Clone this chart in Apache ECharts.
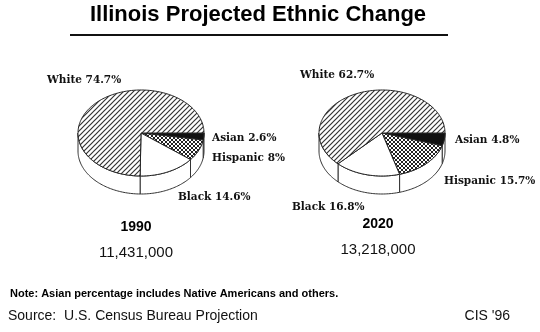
<!DOCTYPE html>
<html>
<head>
<meta charset="utf-8">
<script src="https://cdn.jsdelivr.net/npm/echarts@6/dist/echarts.min.js"></script>
<style>html,body{margin:0;padding:0;background:#fff}#c{width:540px;height:332px}</style>
</head>
<body>
<div id="c"></div>
<script>
// ---- data ----
const chartTitle = 'Illinois Projected Ethnic Change';
const categories = ['Asian', 'Hispanic', 'Black', 'White'];
const years = ['1990', '2020'];
const totals = ['11,431,000', '13,218,000'];
const share1990 = [2.6, 8, 14.6, 74.7];
const share2020 = [4.8, 15.7, 16.8, 62.7];
const noteText = 'Note: Asian percentage includes Native Americans and others.';
const sourceText = 'Source:  U.S. Census Bureau Projection';
const creditText = "CIS '96";

// ---- layout (not data) ----
const shares = [share1990, share2020];
const pieCenters = [[141, 133], [382, 133]];
const RX = 63, RY = 43, DEPTH = 18;
const labelPos = [
  [[212, 138], [212, 158], [178, 197], [47, 80]],
  [[455, 140], [444, 181], [292, 207], [300, 75]]
];
const yearPos = [[136, 227], [378, 224]];
const totalPos = [[136, 253], [378, 250]];

function makePattern(kind) {
  const s = kind === 'cross' ? 4 : 5;
  const c = document.createElement('canvas');
  c.width = s; c.height = s;
  const g = c.getContext('2d');
  g.fillStyle = '#fff'; g.fillRect(0, 0, s, s);
  g.strokeStyle = kind === 'cross' ? '#222' : '#333';
  g.lineWidth = kind === 'cross' ? 1 : 1.2;
  g.beginPath();
  // "/" diagonals
  g.moveTo(-1, s + 1); g.lineTo(s + 1, -1);
  g.moveTo(-1, 1); g.lineTo(1, -1);
  g.moveTo(s - 1, s + 1); g.lineTo(s + 1, s - 1);
  if (kind === 'cross') {
    g.moveTo(-1, -1); g.lineTo(s + 1, s + 1);
    g.moveTo(s - 1, -1); g.lineTo(s + 1, 1);
    g.moveTo(-1, s - 1); g.lineTo(1, s + 1);
  }
  g.stroke();
  return c;
}
const fills = [
  '#111',
  { image: makePattern('cross'), repeat: 'repeat' },
  '#fff',
  { image: makePattern('hatch'), repeat: 'repeat' }
];

function arcPts(cx, cy, a, b, dy) {
  const pts = [];
  const n = Math.max(2, Math.ceil(Math.abs(b - a) / 1.5));
  for (let i = 0; i <= n; i++) {
    const t = (a + (b - a) * i / n) * Math.PI / 180;
    pts.push([cx + RX * Math.cos(t), cy + RY * Math.sin(t) + dy]);
  }
  return pts;
}

function makeRender(k) {
  const vals = shares[k];
  const total = vals.reduce((s, v) => s + v, 0);
  return function (params, api) {
    const i = params.dataIndex;
    const v = api.value(0);
    let before = 0;
    for (let j = 0; j < i; j++) before += vals[j];
    const a = before / total * 360;
    const b = (before + v) / total * 360;
    const [cx, cy] = pieCenters[k];
    const children = [];
    const a2 = Math.max(a, 0), b2 = Math.min(b, 180);
    if (b2 > a2) {
      const top = arcPts(cx, cy, a2, b2, 0);
      const bot = arcPts(cx, cy, a2, b2, DEPTH).reverse();
      children.push({
        type: 'polygon',
        shape: { points: top.concat(bot) },
        style: { fill: '#fff', stroke: '#333', lineWidth: 1 }
      });
    }
    children.push({
      type: 'polygon',
      shape: { points: [[cx, cy]].concat(arcPts(cx, cy, a, b, 0)) },
      style: { fill: fills[i], stroke: '#222', lineWidth: 1 }
    });
    const lp = labelPos[k][i];
    children.push({
      type: 'text',
      x: lp[0], y: lp[1],
      style: {
        text: categories[i] + ' ' + v + '%',
        font: 'bold 10.5px "DejaVu Serif"',
        fill: '#111',
        align: 'left', verticalAlign: 'middle'
      }
    });
    return { type: 'group', children };
  };
}

const chart = echarts.init(document.getElementById('c'), null, { renderer: 'canvas' });
const graphics = [
  { type: 'text', x: 258, y: 15, style: { text: chartTitle, font: 'bold 22px "Liberation Sans"', fill: '#000', align: 'center', verticalAlign: 'middle' } },
  { type: 'line', shape: { x1: 70, y1: 35, x2: 448, y2: 35 }, style: { stroke: '#111', lineWidth: 2 } },
  { type: 'text', x: 10, y: 294, style: { text: noteText, font: 'bold 11px "Liberation Sans"', fill: '#000', align: 'left', verticalAlign: 'middle' } },
  { type: 'text', x: 8, y: 316, style: { text: sourceText, font: '14px "Liberation Sans"', fill: '#111', align: 'left', verticalAlign: 'middle' } },
  { type: 'text', x: 510, y: 316, style: { text: creditText, font: '14px "Liberation Sans"', fill: '#111', align: 'right', verticalAlign: 'middle' } }
];
years.forEach((y, k) => {
  graphics.push({ type: 'text', x: yearPos[k][0], y: yearPos[k][1], style: { text: y, font: 'bold 14px "Liberation Sans"', fill: '#000', align: 'center', verticalAlign: 'middle' } });
  graphics.push({ type: 'text', x: totalPos[k][0], y: totalPos[k][1], style: { text: totals[k], font: '15px "Liberation Sans"', fill: '#111', align: 'center', verticalAlign: 'middle' } });
});

chart.setOption({
  backgroundColor: '#fff',
  animation: false,
  graphic: graphics,
  series: years.map((y, k) => ({
    type: 'custom',
    name: y,
    coordinateSystem: 'none',
    silent: true,
    data: shares[k].map((v, i) => ({ name: categories[i], value: [v] })),
    renderItem: makeRender(k)
  }))
});
</script>
</body>
</html>
